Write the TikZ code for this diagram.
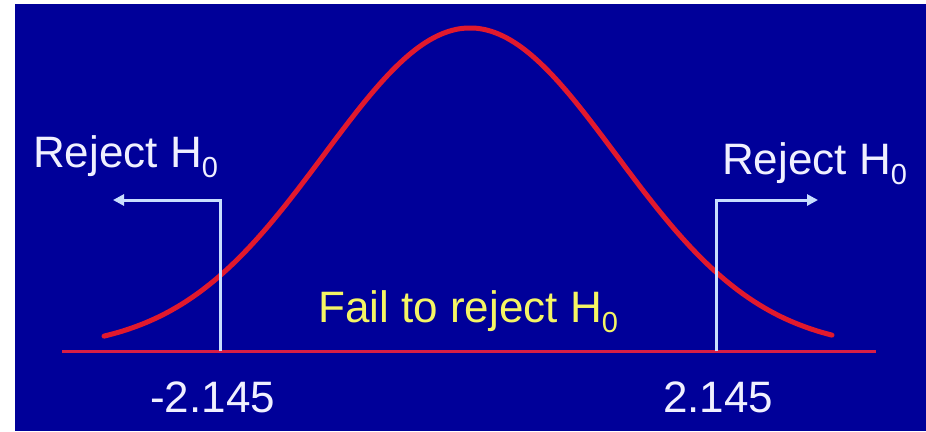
\documentclass[tikz,border=0pt]{standalone}
\usepackage{fontspec}
\setmainfont{Liberation Sans}
\usetikzlibrary{arrows.meta}
\definecolor{bgblue}{RGB}{0,0,153}
\definecolor{curvered}{RGB}{225,25,45}
\definecolor{basered}{RGB}{215,30,70}
\definecolor{arrowblue}{RGB}{200,222,255}
\definecolor{txtyellow}{RGB}{245,245,100}
\definecolor{txtwhite}{RGB}{240,240,255}
\newcommand{\Hsub}{H\raisebox{-10pt}{\fontsize{29}{30}\selectfont 0}}
\begin{document}
\begin{tikzpicture}[x=1pt,y=-1pt,
  lbl/.style={inner sep=0pt,anchor=base west,font=\fontsize{44}{50}\selectfont},
  guide/.style={draw=arrowblue,line width=3pt,-{Triangle[length=11pt,width=11pt]}},
  bell/.style={draw=curvered,line width=5pt,line cap=round},
  axisline/.style={draw=basered,line width=3pt}]
\useasboundingbox (0,0) rectangle (926,431);
\fill[white] (0,0) rectangle (926,431);
\fill[bgblue] (15,4) rectangle (926,431);
% axis
\coordinate (axL) at (62,351);
\coordinate (axR) at (876,351);
\draw[axisline] (axL) -- (axR);
% bell curve
\draw[bell] plot[domain=104:832,samples=200,smooth] (\x,{350-322*exp(-0.5*((\x-470)/146)^2)});
% critical lines with arrows
\coordinate (lb) at (220,351);
\coordinate (la) at (113,200);
\coordinate (rb) at (716,351);
\coordinate (ra) at (818,200);
\draw[guide] (lb) |- (la);
\draw[guide] (rb) |- (ra);
% labels
\node[lbl,text=txtwhite] (rejL) at (33,167) {Reject \Hsub};
\node[lbl,text=txtwhite] (rejR) at (722,174) {Reject \Hsub};
\node[lbl,text=txtyellow] (fail) at (318,322) {Fail to reject \Hsub};
\node[lbl,text=txtwhite] (cvL) at (150,412) {-2.145};
\node[lbl,text=txtwhite] (cvR) at (663,412) {2.145};
\end{tikzpicture}
\end{document}
